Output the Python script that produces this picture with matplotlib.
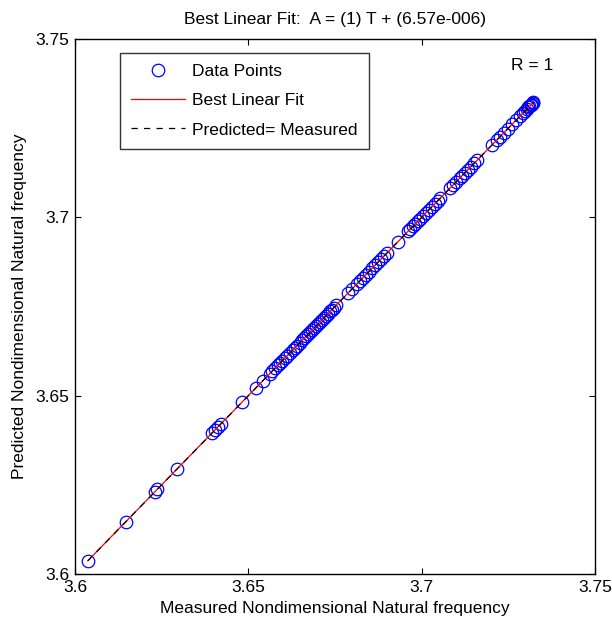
import matplotlib
matplotlib.use("Agg")
import matplotlib.pyplot as plt

plt.rcParams['font.family'] = ['Liberation Sans', 'DejaVu Sans']

measured = [3.6037, 3.6147, 3.6231, 3.6237, 3.6294, 3.6395, 3.6404, 3.6412, 3.6421,
            3.6482, 3.6522, 3.6542, 3.6562, 3.6568, 3.6577, 3.6586, 3.6591, 3.6597,
            3.6606, 3.6612, 3.6620, 3.6629, 3.6635, 3.6640, 3.6649, 3.6655, 3.6661,
            3.6666, 3.6672, 3.6678, 3.6684, 3.6689, 3.6695, 3.6701, 3.6707, 3.6712,
            3.6718, 3.6724, 3.6730, 3.6736, 3.6741, 3.6747, 3.6753, 3.6788, 3.6799,
            3.6813, 3.6822, 3.6831, 3.6839, 3.6848, 3.6857, 3.6865, 3.6874, 3.6883,
            3.6891, 3.6900, 3.6932, 3.6961, 3.6966, 3.6975, 3.6981, 3.6989, 3.6995,
            3.7004, 3.7012, 3.7021, 3.7030, 3.7038, 3.7047, 3.7053, 3.7082, 3.7090,
            3.7099, 3.7111, 3.7116, 3.7125, 3.7134, 3.7142, 3.7151, 3.7160, 3.7203,
            3.7217, 3.7226, 3.7237, 3.7249, 3.7261, 3.7272, 3.7284, 3.7292, 3.7298,
            3.7304, 3.7308, 3.7311, 3.7314, 3.7316, 3.7318, 3.7320, 3.7322]
predicted = list(measured)

fit_slope = 1.0
fit_intercept = 6.57e-6
r_value = 1

xticks = [3.6, 3.65, 3.7, 3.75]
xticklabels = ['3.6', '3.65', '3.7', '3.75']

FS = 12.5

fig = plt.figure(figsize=(6.12, 6.2), dpi=100)
ax = fig.add_axes([75/612, 46/620, 520/612, 535/620])

xmin, xmax = min(measured), max(measured)
fit_x = [xmin, xmax]
fit_y = [fit_slope * v + fit_intercept for v in fit_x]

ax.plot(measured, predicted, 'o', mfc='none', mec='#0000ff', ms=9, mew=0.9,
        label='Data Points', zorder=2)
ax.plot(fit_x, fit_y, '-', color='#ff0000', lw=0.9, label='Best Linear Fit', zorder=3)
ax.plot(fit_x, fit_x, '--', color='black', lw=0.9, dashes=(5, 5),
        label='Predicted= Measured', zorder=4)

ax.set_xlim(3.6, 3.75)
ax.set_ylim(3.6, 3.75)
ax.set_xticks(xticks)
ax.set_xticklabels(xticklabels)
ax.set_yticks(xticks)
ax.set_yticklabels(xticklabels)
ax.tick_params(direction='in', top=True, right=True, labelsize=FS, length=4, pad=4)
for s in ax.spines.values():
    s.set_linewidth(1.0)

ax.set_xlabel('Measured Nondimensional Natural frequency', fontsize=FS, labelpad=5)
ax.set_ylabel('Predicted Nondimensional Natural frequency', fontsize=FS, labelpad=6)
ax.set_title('Best Linear Fit:  A = (1) T + (6.57e-006)', fontsize=FS, pad=11)

ax.text(0.919, 0.951, 'R = %d' % r_value, transform=ax.transAxes, fontsize=FS,
        ha='right', va='center')

leg = ax.legend(loc='upper left', bbox_to_anchor=(45/520, (574-53)/535), fontsize=FS,
                frameon=True, fancybox=False, edgecolor='black', handlelength=3.1,
                borderpad=0.65, labelspacing=0.8, handletextpad=0.4, borderaxespad=0)
leg.get_frame().set_linewidth(1.0)

fig.savefig('out.png', dpi=100)
